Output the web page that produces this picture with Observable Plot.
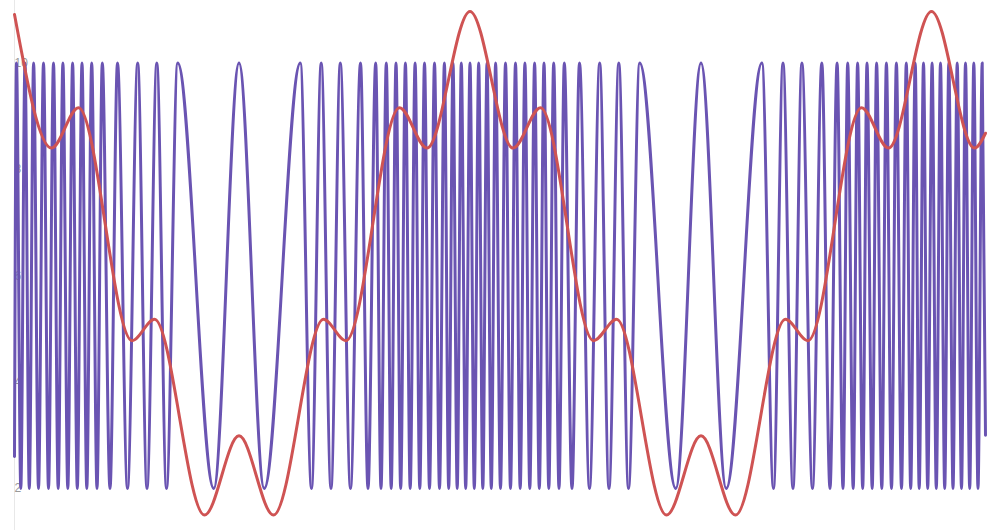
<!DOCTYPE html>
<html>
<head>
<meta charset="utf-8">
<script src="https://cdn.jsdelivr.net/npm/d3@7"></script>
<script src="https://cdn.jsdelivr.net/npm/@observablehq/plot@0.6"></script>
<style>
  html, body { margin: 0; padding: 0; background: #fff; }
  #chart svg { display: block; }
</style>
</head>
<body>
<div id="chart"></div>
<script>
// Carrier (purple): positions of its crests (value 10) and troughs (value 2)
const carrierPeakT = [16, 24.5, 33.1, 43, 53, 62.4, 72.1, 81.5, 91.2, 101.8, 117, 137.2, 156.3, 177.2, 238.5, 299.8, 320.7, 339.8, 360, 375.2, 385.8, 395.5, 404.9, 414.6, 424, 434, 443.9, 452.5, 460.8, 469.5, 478.2, 486.5, 495.1, 505, 515, 524.4, 534.1, 543.5, 553.2, 563.8, 579, 599.2, 618.3, 639.2, 700.5, 761.4, 782.5, 801.4, 821.3, 836.6, 847.2, 857.1, 866.5, 876.1, 885.9, 895.9, 905.8, 914.7, 923, 931.6, 940, 948.3, 956.7, 965, 973.3, 981.7];
const carrierTroughT = [20.3, 28.8, 38, 48, 57.7, 67.3, 76.8, 86.3, 96.5, 109.5, 127, 146.5, 166, 213.3, 263.7, 311, 330.5, 350, 367.5, 380.5, 390.7, 400.2, 409.7, 419.3, 429, 439, 448.2, 456.7, 465.2, 473.8, 482.3, 490.8, 500, 510, 519.7, 529.3, 538.8, 548.3, 558.5, 571.5, 589, 608.5, 628, 675.3, 725.7, 773, 792.5, 812, 829.5, 842.5, 852.7, 862.2, 871.7, 881.3, 891, 901, 910.2, 918.7, 927.2, 935.8, 944.2, 952.5, 961, 969.2, 977.5];
const carrierPeakValue = 10;
const carrierTroughValue = 2;
const carrierEndsT = [14, 985];
const carrierEndsValue = [2.6, 3];

// Modulating signal (red): read extrema
const signalT = [14, 51, 78, 131.5, 154, 204, 238.5, 273, 323, 345.5, 399, 426.5, 469.5, 512.5, 540, 593, 616, 666, 700.5, 735, 785, 807.5, 861, 888, 931, 974, 985];
const signalValue = [10.91, 8.40, 9.16, 4.78, 5.18, 1.50, 2.99, 1.50, 5.18, 4.78, 9.16, 8.40, 10.97, 8.40, 9.16, 4.78, 5.18, 1.50, 2.99, 1.50, 5.18, 4.78, 9.16, 8.40, 10.97, 8.40, 8.68];

const yTicks = [2, 4, 6, 8, 10];

const carrier = [
  ...carrierPeakT.map(t => ({t, v: carrierPeakValue})),
  ...carrierTroughT.map(t => ({t, v: carrierTroughValue})),
  ...carrierEndsT.map((t, i) => ({t, v: carrierEndsValue[i]}))
].sort((a, b) => a.t - b.t);

const signal = signalT.map((t, i) => ({t, v: signalValue[i]}));

const chart = Plot.plot({
  width: 997,
  height: 530,
  marginLeft: 14,
  marginRight: 12,
  marginTop: 0,
  marginBottom: 0,
  style: {fontFamily: "'Liberation Sans', Arial, sans-serif", background: "#fff"},
  x: {domain: [14, 985], axis: null},
  y: {domain: [2, 10], range: [488, 62.5], axis: null},
  marks: [
    Plot.ruleX([14], {stroke: "#e8e8e8", strokeWidth: 1}),
    Plot.text(yTicks, {y: d => d, frameAnchor: "left", textAnchor: "start", fill: "#999", fontSize: 12}),
    Plot.line(carrier, {x: "t", y: "v", curve: "monotone-x", stroke: "#6a54b2", strokeWidth: 3}),
    Plot.line(signal, {x: "t", y: "v", curve: "monotone-x", stroke: "#cf5353", strokeWidth: 3})
  ]
});

document.getElementById("chart").appendChild(chart);
</script>
</body>
</html>
